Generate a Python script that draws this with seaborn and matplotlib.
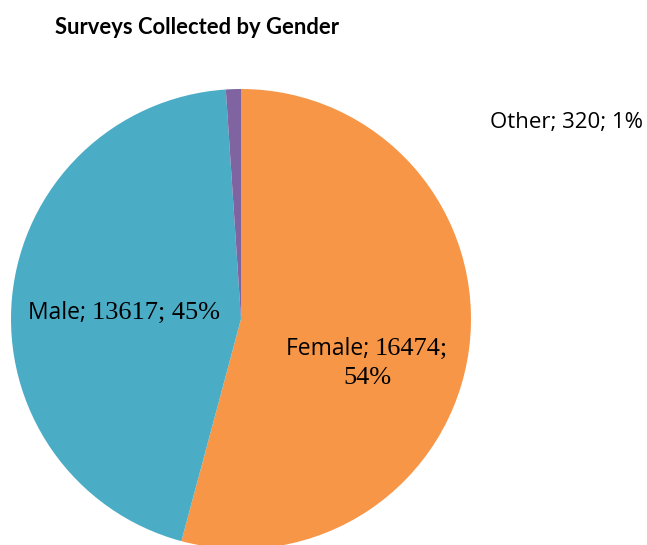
import matplotlib
matplotlib.use("Agg")
import matplotlib.pyplot as plt
import seaborn as sns

# Survey counts by gender
genders = ["Female", "Male", "Other"]
counts = [16474, 13617, 320]
percents = [54, 45, 1]
colors = ["#F79646", "#4BACC6", "#8064A2"]

sns.set_theme(style="white")
palette = sns.color_palette(colors)

W, H = 647, 545
fig = plt.figure(figsize=(W / 100, H / 100), dpi=100)
ax = fig.add_axes([0, 0, 1, 1])

ax.pie(counts, colors=palette, startangle=90, counterclock=False,
       center=(241, H - 319), radius=230,
       wedgeprops=dict(linewidth=0))
ax.set_xlim(0, W)
ax.set_ylim(0, H)
ax.set_aspect("equal")
ax.axis("off")

renderer = fig.canvas.get_renderer()
SANS = "Open Sans"
SERIF = "Liberation Serif"


def mixed_line(parts, cx, cy):
    """Draw a line made of (text, family, size) pieces centred at (cx, cy) in pixel coords."""
    arts = []
    for txt, fam, size in parts:
        t = ax.text(0, 0, txt, fontsize=size, family=fam, color="black",
                    ha="left", va="center_baseline")
        arts.append(t)
    widths = [a.get_window_extent(renderer).width for a in arts]
    total = sum(widths)
    x = cx - total / 2
    for a, w in zip(arts, widths):
        a.set_position((x, H - cy))
        x += w


# Title
ax.text(197, H - 27, "Surveys Collected by Gender", fontsize=15.8,
        fontweight="bold", family="Lato", color="black",
        ha="center", va="center")

# Slice labels
mixed_line([("Male; ", SANS, 16.5),
            (f"{counts[1]}; {percents[1]}%", SERIF, 19)], 124, 310)
mixed_line([("Female; ", SANS, 16.5), (f"{counts[0]};", SERIF, 19)], 367, 346)
mixed_line([(f"{percents[0]}%", SERIF, 19)], 367, 376)
mixed_line([(f"Other; {counts[2]}; {percents[2]}%", SANS, 16)], 566, 120)

fig.savefig("out.png", dpi=100)
